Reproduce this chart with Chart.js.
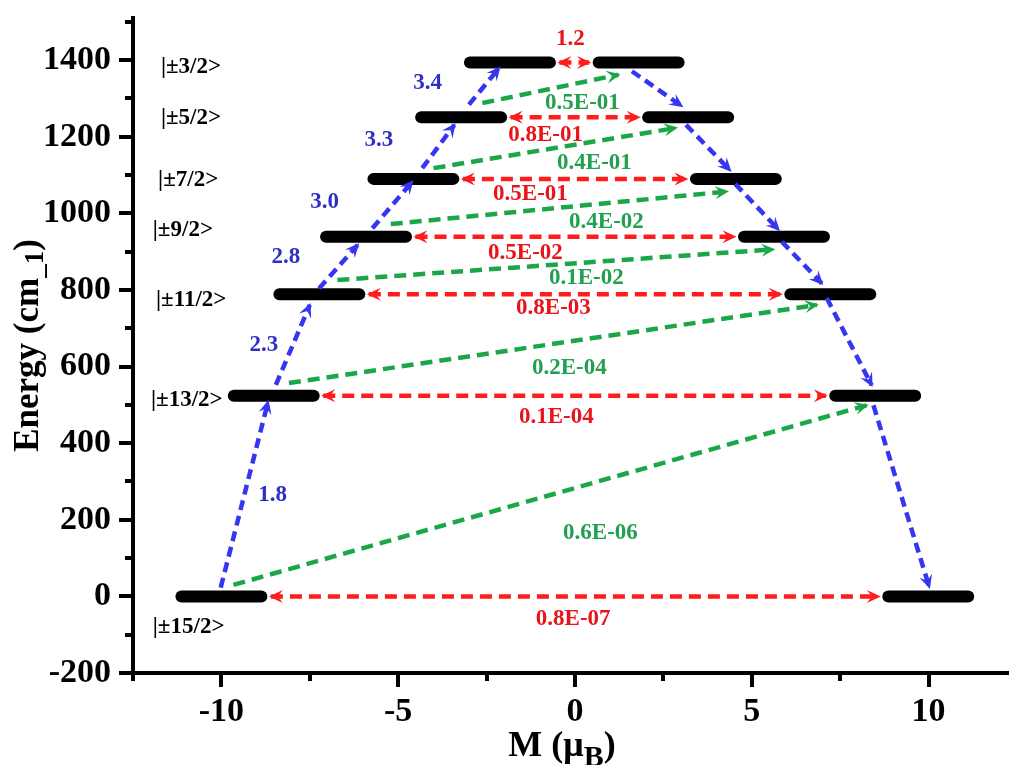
<!DOCTYPE html>
<html>
<head>
<meta charset="utf-8">
<title>Energy levels and magnetic moments</title>
<script src="https://cdn.jsdelivr.net/npm/chart.js@4.4.1/dist/chart.umd.min.js"></script>
<style>
  html, body { margin: 0; padding: 0; background: #ffffff; overflow: hidden; }
  #wrap { width: 1009px; height: 765px; overflow: hidden; position: relative; background: #ffffff; }
  canvas { display: block; }
</style>
</head>
<body>
<div id="wrap"><canvas id="levels" width="1030" height="765"></canvas></div>
<script>
// ---- Kramers doublets: energy (cm-1) and moment (μB) of the two halves ----
const levelNames   = ['|±15/2>', '|±13/2>', '|±11/2>', '|±9/2>', '|±7/2>', '|±5/2>', '|±3/2>'];
const levelEnergy  = [0, 524, 789, 939, 1090, 1251, 1394];
const momentMinus  = [-10.0, -8.52, -7.23, -5.91, -4.57, -3.22, -1.84];
const momentPlus   = [9.99, 8.49, 7.22, 5.91, 4.55, 3.20, 1.80];

// ---- transition matrix elements ----
const qtmValues    = ['0.8E-07', '0.1E-04', '0.8E-03', '0.5E-02', '0.5E-01', '0.8E-01', '1.2']; // within a doublet
const orbachValues = ['1.8', '2.3', '2.8', '3.0', '3.3', '3.4'];                         // up the -M side
const crossValues  = ['0.6E-06', '0.2E-04', '0.1E-02', '0.4E-02', '0.4E-01', '0.5E-01']; // -M(n) to +M(n+1)

// ---- arrow end points [M, E] ----
const upFrom    = [[-10.02, 23], [-8.46, 552], [-7.24, 804], [-5.73, 961], [-4.32, 1118], [-3.00, 1284]];
const upTo      = [[-8.68, 508], [-7.50, 761], [-6.14, 918], [-4.60, 1083], [-3.41, 1231], [-2.14, 1380]];
const downFrom  = [[1.61, 1371], [3.14, 1231], [4.53, 1077], [5.85, 926], [7.12, 779], [8.44, 499]];
const downTo    = [[3.02, 1280], [4.39, 1112], [5.76, 957], [6.98, 817], [8.39, 551], [10.02, 24]];
const crossFrom = [[-9.66, 30], [-8.09, 557], [-6.72, 826], [-5.21, 972], [-4.00, 1118], [-2.62, 1288]];
const crossTo   = [[8.25, 499], [6.84, 761], [5.61, 906], [4.30, 1057], [2.86, 1223], [1.23, 1362]];

// ---- text anchors [M, E] ----
const levelNameAt = [[-11.94, -81], [-11.99, 512], [-11.85, 774], [-11.94, 957], [-11.79, 1088], [-11.71, 1250], [-11.71, 1383]];
const qtmAt       = [[-0.05, -58], [-0.53, 468], [-0.61, 753], [-1.40, 897], [-1.26, 1050], [-0.83, 1205], [-0.13, 1454]];
const orbachAt    = [[-8.55, 264], [-8.80, 656], [-8.18, 886], [-7.08, 1030], [-5.55, 1192], [-4.17, 1341]];
const crossAt     = [[0.72, 165], [-0.16, 596], [0.32, 831], [0.89, 978], [0.55, 1132], [0.21, 1289]];

// ---- axis ticks ----
const xTickLabels = [-10, -5, 0, 5, 10];
const xMinorTicks = [-12.5, -7.5, -2.5, 2.5, 7.5, 12.5];
const yTickLabels = [-200, 0, 200, 400, 600, 800, 1000, 1200, 1400];
const yMinorTicks = [-100, 100, 300, 500, 700, 900, 1100, 1300, 1500];

const SERIF = '"Liberation Serif", "Times New Roman", Times, serif';
const BLACK = '#000000';
const BLUE = '#3535f2', BLUE_TEXT = '#2f2fc6';
const RED = '#ff1c1c', RED_TEXT = '#e8141a';
const GREEN = '#1ca64a', GREEN_TEXT = '#21a14f';

const halfBar = 1.13;       // half length of a level line (round caps add the rest)
const redInset = halfBar + 0.27;

const pt = p => ({ x: p[0], y: p[1] });
const datasets = [];

// level lines
levelEnergy.forEach((e, i) => {
  [momentMinus[i], momentPlus[i]].forEach(m => {
    datasets.push({
      data: [{ x: m - halfBar, y: e }, { x: m + halfBar, y: e }],
      borderColor: BLACK, borderWidth: 12, borderCapStyle: 'round',
      showLine: true, pointRadius: 0, order: 5
    });
  });
});

function arrowSet(from, to, color, dash, head) {
  return {
    data: [pt(from), pt(to)],
    borderColor: color, borderWidth: 4.5, borderDash: dash, borderCapStyle: 'butt',
    showLine: true, pointRadius: 0, order: 1, arrowHead: head
  };
}

// quantum tunnelling within each doublet (double headed)
levelEnergy.forEach((e, i) => {
  datasets.push(arrowSet([momentMinus[i] + redInset, e], [momentPlus[i] - redInset, e], RED, [12, 7], 'both'));
});
// cross transitions
crossFrom.forEach((p, i) => datasets.push(arrowSet(p, crossTo[i], GREEN, [12, 7], 'end')));
// Orbach path up the -M side and down the +M side
upFrom.forEach((p, i) => datasets.push(arrowSet(p, upTo[i], BLUE, [10, 6], 'end')));
downFrom.forEach((p, i) => datasets.push(arrowSet(p, downTo[i], BLUE, [10, 6], 'end')));

function drawHead(ctx, from, to, color) {
  const dx = to.x - from.x, dy = to.y - from.y;
  const len = Math.hypot(dx, dy) || 1;
  const ux = dx / len, uy = dy / len, nx = -uy, ny = ux;
  const L = 14, W = 6.5;
  const tx = to.x + ux * 2, ty = to.y + uy * 2;
  ctx.beginPath();
  ctx.moveTo(tx, ty);
  ctx.lineTo(tx - ux * L + nx * W, ty - uy * L + ny * W);
  ctx.lineTo(tx - ux * L * 0.62, ty - uy * L * 0.62);
  ctx.lineTo(tx - ux * L - nx * W, ty - uy * L - ny * W);
  ctx.closePath();
  ctx.fillStyle = color;
  ctx.fill();
}

function drawRich(ctx, parts, x, y) {
  let total = 0;
  parts.forEach(p => { ctx.font = 'bold ' + p.size + 'px ' + SERIF; p.w = ctx.measureText(p.t).width; total += p.w; });
  let cx = x - total / 2;
  ctx.textAlign = 'left';
  ctx.textBaseline = 'alphabetic';
  parts.forEach(p => {
    ctx.font = 'bold ' + p.size + 'px ' + SERIF;
    ctx.fillText(p.t, cx, y + (p.dy || 0));
    cx += p.w;
  });
}

const diagramExtras = {
  id: 'diagramExtras',
  afterDatasetsDraw(chart) {
    const ctx = chart.ctx;
    ctx.save();
    chart.data.datasets.forEach((ds, i) => {
      if (!ds.arrowHead) return;
      const pts = chart.getDatasetMeta(i).data;
      const a = pts[0], b = pts[pts.length - 1];
      drawHead(ctx, a, b, ds.borderColor);
      if (ds.arrowHead === 'both') drawHead(ctx, b, a, ds.borderColor);
    });
    ctx.restore();
  },
  afterDraw(chart) {
    const ctx = chart.ctx;
    const xs = chart.scales.x, ys = chart.scales.y;
    const area = chart.chartArea;
    ctx.save();

    // minor ticks
    ctx.strokeStyle = BLACK;
    ctx.lineWidth = 4;
    ctx.beginPath();
    xMinorTicks.forEach(v => {
      const px = Math.round(xs.getPixelForValue(v));
      ctx.moveTo(px, area.bottom); ctx.lineTo(px, area.bottom + 8);
    });
    yMinorTicks.forEach(v => {
      const py = Math.round(ys.getPixelForValue(v));
      ctx.moveTo(area.left, py); ctx.lineTo(area.left - 8, py);
    });
    ctx.stroke();

    const put = (text, at, color, size, align) => {
      ctx.font = 'bold ' + size + 'px ' + SERIF;
      ctx.fillStyle = color;
      ctx.textAlign = align || 'center';
      ctx.textBaseline = 'middle';
      ctx.fillText(text, xs.getPixelForValue(at[0]), ys.getPixelForValue(at[1]));
    };
    levelNames.forEach((t, i) => put(t, levelNameAt[i], BLACK, 23, 'left'));
    qtmValues.forEach((t, i) => put(t, qtmAt[i], RED_TEXT, 23));
    orbachValues.forEach((t, i) => put(t, orbachAt[i], BLUE_TEXT, 23));
    crossValues.forEach((t, i) => put(t, crossAt[i], GREEN_TEXT, 23));

    // axis titles
    ctx.fillStyle = BLACK;
    drawRich(ctx, [{ t: 'M (μ', size: 36 }, { t: 'B', size: 30, dy: 10 }, { t: ')', size: 36 }], 562, 756);
    ctx.save();
    ctx.translate(38, (area.top + area.bottom) / 2);
    ctx.rotate(-Math.PI / 2);
    drawRich(ctx, [{ t: 'Energy (cm', size: 35 }, { t: '_1', size: 27, dy: 5 }, { t: ')', size: 35 }], 0, 0);
    ctx.restore();

    ctx.restore();
  }
};

const axisGrid = { display: true, drawOnChartArea: false, drawTicks: true, tickLength: 14, tickWidth: 4, lineWidth: 4, color: BLACK, tickColor: BLACK };
const axisBorder = { display: true, color: BLACK, width: 4 };

new Chart(document.getElementById('levels'), {
  type: 'scatter',
  data: { datasets },
  options: {
    responsive: false,
    maintainAspectRatio: false,
    devicePixelRatio: 1,
    animation: false,
    layout: { padding: { top: 18, right: 13, left: 0, bottom: 0 } },
    plugins: { legend: { display: false }, tooltip: { enabled: false } },
    scales: {
      x: {
        type: 'linear', position: 'bottom', min: -12.5, max: 12.5,
        afterBuildTicks: s => { s.ticks = xTickLabels.concat(xMinorTicks).sort((a, b) => a - b).map(v => ({ value: v })); },
        afterFit: s => { s.height = 92; },
        ticks: {
          autoSkip: false, maxRotation: 0, color: BLACK, padding: 5,
          font: { family: SERIF, size: 34, weight: 'bold' },
          callback: v => xTickLabels.includes(v) ? String(v) : null
        },
        grid: axisGrid, border: axisBorder
      },
      y: {
        type: 'linear', min: -200, max: 1510,
        afterBuildTicks: s => { s.ticks = yTickLabels.concat(yMinorTicks).sort((a, b) => a - b).map(v => ({ value: v })); },
        afterFit: s => { s.width = 133; },
        ticks: {
          autoSkip: false, color: BLACK, padding: 8,
          // small line height keeps the top label from pushing the plot area down
          font: { family: SERIF, size: 34, weight: 'bold', lineHeight: 0.3 },
          callback: v => yTickLabels.includes(v) ? String(v) : null
        },
        grid: axisGrid, border: axisBorder
      }
    }
  },
  plugins: [diagramExtras]
});
</script>
</body>
</html>
